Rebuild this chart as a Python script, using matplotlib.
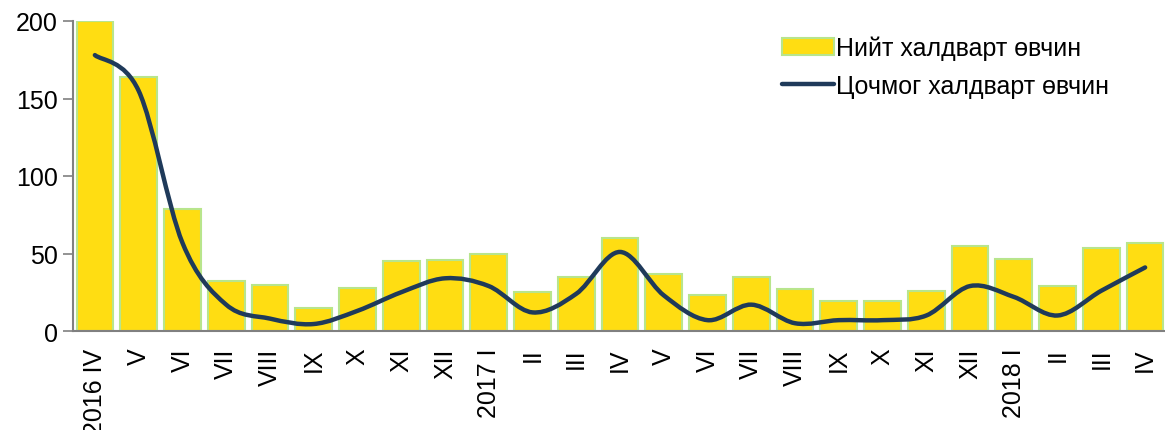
import matplotlib.pyplot as plt
from matplotlib.path import Path
from matplotlib.patches import PathPatch, Patch
from matplotlib.lines import Line2D

plt.rcParams['font.family'] = ['Liberation Sans', 'DejaVu Sans']

labels = ['2016 IV', 'V', 'VI', 'VII', 'VIII', 'IX', 'X', 'XI', 'XII',
          '2017 I', 'II', 'III', 'IV', 'V', 'VI', 'VII', 'VIII', 'IX', 'X', 'XI', 'XII',
          '2018 I', 'II', 'III', 'IV']
total = [200, 164, 79, 32, 30, 15, 28, 45, 46, 50, 25, 35, 60, 37, 23, 35, 27,
         19.5, 19.5, 26, 55, 46.5, 29, 53.5, 57]
acute = [178, 155, 57, 17, 8, 4.5, 13, 25, 34, 29, 12, 24, 51, 23, 7, 17, 5,
         7, 7, 10, 29, 22, 10, 26, 41]

bar_color = '#FFDD12'
edge_color = '#B8E58C'
line_color = '#1F3A5A'

fig = plt.figure(figsize=(11.65, 4.31), dpi=100)
ax = fig.add_axes([73 / 1165, 1 - 332 / 431, (1167 - 73) / 1165, 310 / 431])

x = list(range(len(labels)))
ax.bar(x, total, width=0.84, color=bar_color, edgecolor=edge_color, linewidth=1.5, zorder=2)

# smooth line (Excel style) drawn as cubic Bezier through the data points
pts = list(zip(x, acute))
verts = [pts[0]]
codes = [Path.MOVETO]
n = len(pts)
for i in range(n - 1):
    p0 = pts[max(i - 1, 0)]
    p1 = pts[i]
    p2 = pts[i + 1]
    p3 = pts[min(i + 2, n - 1)]
    c1 = (p1[0] + (p2[0] - p0[0]) / 6, p1[1] + (p2[1] - p0[1]) / 6)
    c2 = (p2[0] - (p3[0] - p1[0]) / 6, p2[1] - (p3[1] - p1[1]) / 6)
    verts += [c1, c2, p2]
    codes += [Path.CURVE4] * 3
ax.add_patch(PathPatch(Path(verts, codes), facecolor='none', edgecolor=line_color,
                       linewidth=3.2, capstyle='round', zorder=3))

ax.set_xlim(-0.5, 24.5)
ax.set_ylim(0, 200)
ax.set_yticks([0, 50, 100, 150, 200])
ax.set_xticks(x)
ax.set_xticklabels(labels, rotation=90)
ax.tick_params(axis='y', labelsize=18, length=7, color='#808080', width=1.2, pad=4)
ax.tick_params(axis='x', labelsize=18, length=0, pad=12)
for s in ['top', 'right']:
    ax.spines[s].set_visible(False)
for s in ['left', 'bottom']:
    ax.spines[s].set_color('#808080')
    ax.spines[s].set_linewidth(1.5)

handles = [Patch(facecolor=bar_color, edgecolor=edge_color, linewidth=1.5),
           Line2D([0], [0], color=line_color, linewidth=3.2, solid_capstyle='round')]
fig.legend(handles, ['Нийт халдварт өвчин', 'Цочмог халдварт өвчин'],
           loc='upper left', bbox_to_anchor=(769 / 1165, 1 - 24 / 431), frameon=False,
           fontsize=18, handlelength=2.1, handleheight=0.65, handletextpad=0.1,
           labelspacing=0.55, borderpad=0)

fig.savefig('out.png', dpi=100)
